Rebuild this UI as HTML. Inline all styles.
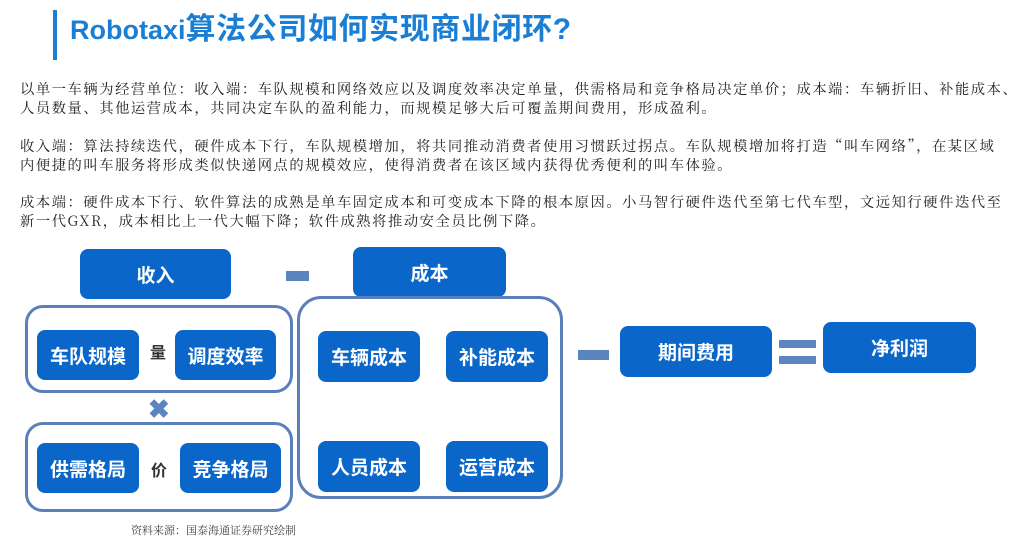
<!DOCTYPE html>
<html><head><meta charset="utf-8"><style>
body{margin:0;width:1024px;height:543px;background:#fff;position:relative;overflow:hidden;font-family:"Liberation Sans","Noto Sans CJK SC",sans-serif}
.a{position:absolute}
.b{position:absolute;background:#0a66c8;border-radius:8px;color:#fff;display:flex;align-items:center;justify-content:center;font-size:19px;font-weight:bold}
.o{position:absolute;border:3px solid #5b7fb8;border-radius:18px;box-sizing:border-box}
.p{position:absolute;left:20px;width:1010px;font-family:"Noto Serif CJK SC",serif;font-size:14.3px;line-height:19px;color:#222;letter-spacing:1.55px;white-space:nowrap}
.m{position:absolute;background:#5a85bf}
.t{position:absolute;font-size:16px;font-weight:bold;color:#333}
</style></head><body>
<div class="a" style="left:53px;top:10px;width:4px;height:50px;background:#1a7fd4"></div>
<div class="a" style="left:70px;top:11px;font-size:27px;font-weight:bold;color:#1a7fd4;line-height:38px">Robotaxi<span style="font-size:30px;letter-spacing:0.6px">算法公司如何实现商业闭环?</span></div>
<div class="p" style="top:80px">以单一车辆为经营单位：收入端：车队规模和网络效应以及调度效率决定单量，供需格局和竞争格局决定单价；成本端：车辆折旧、补能成本、<br>人员数量、其他运营成本，共同决定车队的盈利能力，而规模足够大后可覆盖期间费用，形成盈利。</div>
<div class="p" style="top:137px">收入端：算法持续迭代，硬件成本下行，车队规模增加，将共同推动消费者使用习惯跃过拐点。车队规模增加将打造“叫车网络”，在某区域<br>内便捷的叫车服务将形成类似快递网点的规模效应，使得消费者在该区域内获得优秀便利的叫车体验。</div>
<div class="p" style="top:193px">成本端：硬件成本下行、软件算法的成熟是单车固定成本和可变成本下降的根本原因。小马智行硬件迭代至第七代车型，文远知行硬件迭代至<br>新一代GXR，成本相比上一代大幅下降；软件成熟将推动安全员比例下降。</div>

<div class="b" style="left:80px;top:249px;width:151px;height:50px">收入</div>
<div class="m" style="left:286px;top:271px;width:23px;height:10px"></div>
<div class="b" style="left:353px;top:247px;width:153px;height:50px">成本</div>

<div class="o" style="left:25px;top:305px;width:268px;height:88px"></div>
<div class="b" style="left:37px;top:330px;width:102px;height:50px">车队规模</div>
<div class="t" style="left:150px;top:339px">量</div>
<div class="b" style="left:175px;top:330px;width:101px;height:50px">调度效率</div>
<div class="a" style="left:148px;top:394px;font-size:26px;font-weight:bold;color:#5a85bf;line-height:30px">✖</div>
<div class="o" style="left:25px;top:422px;width:268px;height:90px"></div>
<div class="b" style="left:37px;top:443px;width:102px;height:50px">供需格局</div>
<div class="t" style="left:151px;top:457px">价</div>
<div class="b" style="left:180px;top:443px;width:101px;height:50px">竞争格局</div>

<div class="o" style="left:297px;top:296px;width:266px;height:203px;border-radius:24px"></div>
<div class="b" style="left:318px;top:331px;width:102px;height:51px">车辆成本</div>
<div class="b" style="left:446px;top:331px;width:102px;height:51px">补能成本</div>
<div class="b" style="left:318px;top:441px;width:102px;height:51px">人员成本</div>
<div class="b" style="left:446px;top:441px;width:102px;height:51px">运营成本</div>

<div class="m" style="left:578px;top:350px;width:31px;height:10px"></div>
<div class="b" style="left:620px;top:326px;width:152px;height:51px">期间费用</div>
<div class="m" style="left:779px;top:340px;width:37px;height:8px"></div>
<div class="m" style="left:779px;top:356px;width:37px;height:8px"></div>
<div class="b" style="left:823px;top:322px;width:153px;height:51px">净利润</div>

<div class="a" style="left:131px;top:522px;font-family:'Noto Serif CJK SC',serif;font-size:11px;color:#444">资料来源：国泰海通证券研究绘制</div>
</body></html>
